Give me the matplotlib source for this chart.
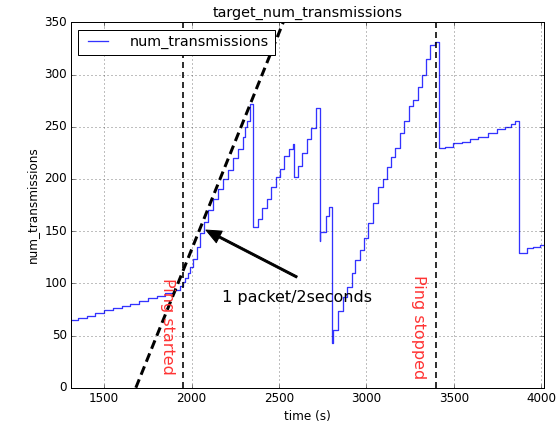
import matplotlib
matplotlib.use('Agg')
import matplotlib.pyplot as plt

# time (s) where each step starts, and the value held from there
t_steps = [1310, 1350, 1400, 1450, 1500, 1550, 1600, 1650, 1700, 1750, 1800, 1850, 1900, 1935,
           1952, 1964, 1977, 1990, 2010, 2028, 2048, 2070, 2095, 2124, 2152, 2181, 2209, 2238,
           2266, 2291, 2305, 2319, 2334,
           2350, 2377, 2404, 2429, 2453, 2480, 2505, 2530, 2557, 2578,
           2585, 2610, 2633, 2659, 2683, 2710,
           2732, 2735, 2766, 2785,
           2804, 2810, 2835, 2864, 2886, 2915, 2934, 2962, 2988, 3011, 3035, 3064, 3092, 3115,
           3140, 3162, 3192, 3216, 3245, 3268, 3293, 3315, 3340, 3363, 3391,
           3416, 3448, 3496, 3544, 3592, 3640, 3697, 3745, 3793, 3825, 3850,
           3873, 3917, 3955, 3993, 4015]
num_tx = [65, 67, 69, 71.5, 74, 76, 78, 80.5, 83, 85.5, 88, 91, 94, 97,
          101, 105, 110, 116, 123, 135, 148, 159, 170, 181, 190, 200, 209, 220,
          229, 240, 250, 255, 272,
          154, 162, 172, 181, 192, 201.5, 209.5, 222, 228.6, 233,
          201.5, 212, 224.5, 238, 249, 267.6,
          141, 149.5, 164.5, 172.8,
          42.5, 55, 73, 87, 96, 110, 122, 132, 143, 157.5, 176.6, 192, 199.6, 211,
          220.7, 230, 244, 255.7, 270, 276, 288, 300, 315, 328, 331.5,
          229.3, 231, 234, 235.6, 238, 240.4, 244.3, 247.5, 250, 252.6, 255.7,
          128.7, 133.5, 135, 137, 137]

ping_start = 1952
ping_stop = 3398
rate_line_t = [1681, 2524]
rate_line_y = [0, 350]

plt.style.use('classic')
plt.rcParams['font.family'] = 'DejaVu Sans'

fig = plt.figure(figsize=(559 / 72, 424 / 72), dpi=72)
fig.patch.set_facecolor('white')
ax = fig.add_axes([0.127, 0.0856, 0.846, 0.8618])

ax.plot(t_steps, num_tx, drawstyle='steps-post', color='#3333ff', lw=1.3,
        label='num_transmissions')
ax.plot(rate_line_t, rate_line_y, color='black', lw=3, dashes=(9, 5))
ax.axvline(ping_start, color='black', lw=1.6, dashes=(6, 4))
ax.axvline(ping_stop, color='black', lw=1.6, dashes=(6, 4))

ax.text(1863, 59, 'Ping started', color='#ff3333', fontsize=16, rotation=270,
        ha='center', va='center')
ax.text(3297, 58, 'Ping stopped', color='#ff3333', fontsize=16, rotation=270,
        ha='center', va='center')
ax.annotate('', xy=(2082, 151), xytext=(2602, 106),
            arrowprops=dict(facecolor='black', edgecolor='black', width=2,
                            headwidth=13, headlength=15, shrink=0.0))
ax.text(2600, 86, '1 packet/2seconds', fontsize=16, ha='center', va='center')

ax.set_xlim(1310, 4015)
ax.set_ylim(0, 350)
ax.set_xticks([1500, 2000, 2500, 3000, 3500, 4000])
ax.grid(True)
ax.set_title('target_num_transmissions')
ax.set_xlabel('time (s)')
ax.set_ylabel('num_transmissions')
ax.legend(loc='upper left', handletextpad=1.2)

fig.savefig('out.png', dpi=72, facecolor='white')
